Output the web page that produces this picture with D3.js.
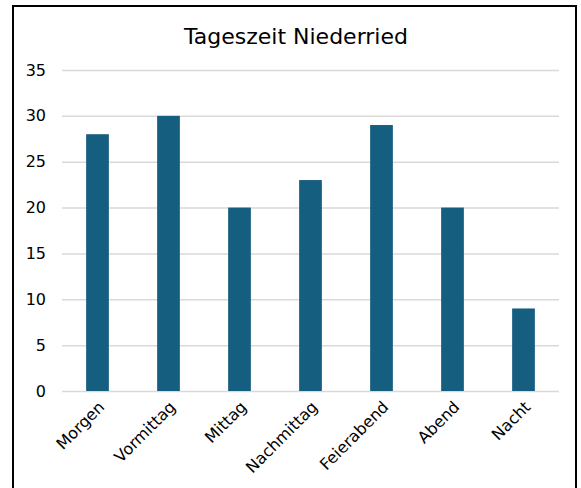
<!DOCTYPE html>
<html>
<head>
<meta charset="utf-8">
<script src="https://cdn.jsdelivr.net/npm/d3@7"></script>
<style>
  body { margin: 0; background: #fff; }
  text { font-family: "DejaVu Sans", Verdana, sans-serif; }
</style>
</head>
<body>
<svg id="viz"></svg>
<script>
const categories = ["Morgen", "Vormittag", "Mittag", "Nachmittag", "Feierabend", "Abend", "Nacht"]
const values = [28, 30, 20, 23, 29, 20, 9]
const yTicks = [0, 5, 10, 15, 20, 25, 30, 35]
const title = "Tageszeit Niederried"

const width = 581
const height = 488
const margin = { top: 70, right: 22, bottom: 97, left: 62 }

const svg = d3.select("#viz")
    .attr("width", width)
    .attr("height", height)

// frame
svg.append("rect")
    .attr("x", 13).attr("y", 6)
    .attr("width", 563).attr("height", 500)
    .attr("fill", "#fff")
    .attr("stroke", "#000")
    .attr("stroke-width", 2)

const x = d3.scaleBand()
    .domain(categories)
    .range([margin.left, width - margin.right])
    .paddingInner(0.68)
    .paddingOuter(0.34)

const y = d3.scaleLinear()
    .domain([0, 35])
    .range([height - margin.bottom, margin.top])

svg.append("text")
    .attr("x", 296)
    .attr("y", 44)
    .attr("text-anchor", "middle")
    .attr("font-size", 22)
    .attr("fill", "#000")
    .text(title)

// grid + y labels
const yAxis = g => g
    .attr("transform", `translate(${margin.left},0)`)
    .call(d3.axisLeft(y).tickValues(yTicks).tickSize(-(width - margin.right - margin.left)).tickPadding(16))
    .call(g => g.select(".domain").remove())
    .call(g => g.selectAll(".tick line").attr("stroke", "#d9d9d9").attr("stroke-width", 1.5))
    .call(g => g.selectAll(".tick text").attr("font-size", 16).attr("fill", "#000")
        .attr("font-family", "\"DejaVu Sans\", Verdana, sans-serif"))

svg.append("g").call(yAxis)

svg.append("g")
    .selectAll("rect")
    .data(values)
    .join("rect")
    .attr("x", (d, i) => x(categories[i]))
    .attr("y", d => y(d))
    .attr("width", x.bandwidth())
    .attr("height", d => y(0) - y(d))
    .attr("fill", "#165e80")

const xAxis = g => g
    .attr("transform", `translate(0,${height - margin.bottom})`)
    .call(d3.axisBottom(x).tickSize(0).tickPadding(0))
    .call(g => g.select(".domain").remove())
    .call(g => g.selectAll(".tick text")
        .attr("font-size", 16)
        .attr("fill", "#000")
        .attr("font-family", "\"DejaVu Sans\", Verdana, sans-serif")
        .attr("text-anchor", "end")
        .attr("dy", "0")
        .attr("transform", "translate(8,17) rotate(-45)"))

svg.append("g").call(xAxis)
</script>
</body>
</html>
